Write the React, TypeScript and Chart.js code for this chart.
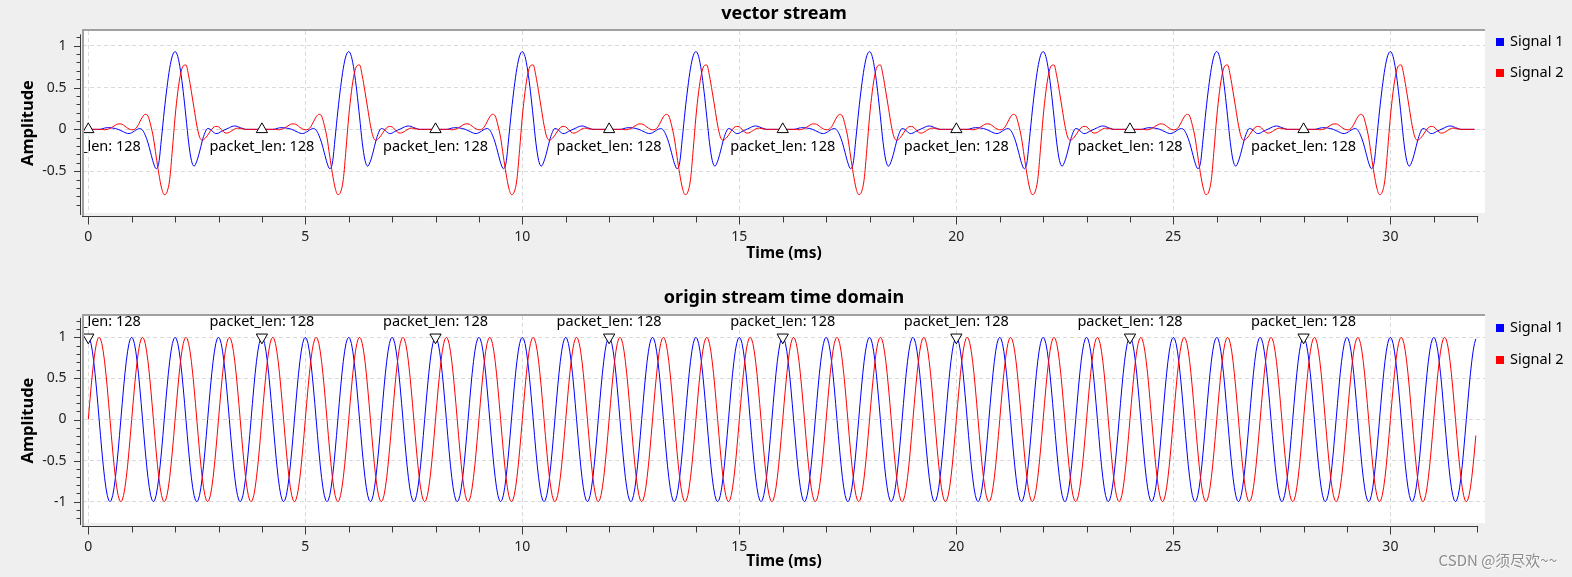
import React, { useEffect, useRef } from "react";
import { Chart, registerables } from "chart.js";

Chart.register(...registerables);

const FONT = '"Noto Sans", "DejaVu Sans", sans-serif';

// ---- Data: top plot ("vector stream"), one 4 ms packet (16 samples / ms)
const pulseSamplesPerMs = 16;
const pulseSignal1 = [
  0, 0, 0, 0, 0, 0.005, 0.015, 0.02, 0.02, 0.015, 0.01, 0.0, -0.015, -0.03, -0.045, -0.05,
  -0.04, -0.02, 0.0, 0.01, -0.01, -0.07, -0.16, -0.28, -0.4, -0.47, -0.4, -0.1, 0.22, 0.5, 0.73, 0.88,
  0.93, 0.87, 0.7, 0.45, 0.15, -0.16, -0.37, -0.44, -0.38, -0.27, -0.14, -0.04, 0.01, 0.0, -0.03, -0.05,
  -0.045, -0.025, -0.01, 0.005, 0.02, 0.035, 0.04, 0.035, 0.02, 0.01, 0.0, 0, 0, 0, 0, 0,
];
const pulseSignal2 = [
  0, 0, 0, 0, 0, 0, -0.005, 0.0, 0.01, 0.03, 0.05, 0.065, 0.065, 0.05, 0.025, 0.005,
  -0.005, 0.0, 0.03, 0.09, 0.15, 0.18, 0.16, 0.05, -0.1, -0.32, -0.53, -0.7, -0.78, -0.75, -0.6, -0.24,
  0.15, 0.45, 0.66, 0.76, 0.77, 0.64, 0.45, 0.25, 0.05, -0.09, -0.13, -0.11, -0.07, -0.02, 0.02, 0.035,
  0.03, 0.0, -0.035, -0.045, -0.035, -0.015, 0.005, 0.015, 0.01, 0.005, 0, 0, 0, 0, 0, 0,
];
const packetStarts = [0, 4, 8, 12, 16, 20, 24, 28];
const tagLabel = "packet_len: 128";

// ---- Data: bottom plot ("origin stream time domain"), one 1 ms period (32 samples / ms)
const periodSamplesPerMs = 32;
const periodCount = 32;
const periodSignal1 = [
  1, 0.981, 0.924, 0.831, 0.707, 0.556, 0.383, 0.195, 0, -0.195, -0.383, -0.556, -0.707, -0.831, -0.924, -0.981,
  -1, -0.981, -0.924, -0.831, -0.707, -0.556, -0.383, -0.195, 0, 0.195, 0.383, 0.556, 0.707, 0.831, 0.924, 0.981,
];
const periodSignal2 = [
  0, 0.195, 0.383, 0.556, 0.707, 0.831, 0.924, 0.981, 1, 0.981, 0.924, 0.831, 0.707, 0.556, 0.383, 0.195,
  0, -0.195, -0.383, -0.556, -0.707, -0.831, -0.924, -0.981, -1, -0.981, -0.924, -0.831, -0.707, -0.556, -0.383, -0.195,
];

// ---- Axes / labels
const xTickValues = [0, 5, 10, 15, 20, 25, 30];
const topYTicks = [-0.5, 0, 0.5, 1];
const bottomYTicks = [-1, -0.5, 0, 0.5, 1];
const seriesNames = ["Signal 1", "Signal 2"];
const seriesColors = ["#0000ff", "#ff0000"];
const topTitle = "vector stream";
const bottomTitle = "origin stream time domain";
const xTitle = "Time (ms)";
const yTitle = "Amplitude";
const watermark = "CSDN @须尽欢~~";

function pulseSeries(pulse: number[]) {
  const pts: { x: number; y: number }[] = [];
  for (const s of packetStarts) pulse.forEach((v, j) => pts.push({ x: s + j / pulseSamplesPerMs, y: v }));
  return pts;
}
function periodSeries(period: number[]) {
  const pts: { x: number; y: number }[] = [];
  for (let c = 0; c < periodCount; c++) period.forEach((v, j) => pts.push({ x: c + j / periodSamplesPerMs, y: v }));
  return pts;
}

type Spec = {
  title: string;
  series: { x: number; y: number }[][];
  smooth: boolean;
  yMin: number;
  yMax: number;
  yTicks: number[];
  minorFrom: number;
  minorTo: number;
  padTop: number;
  xAxisHeight: number;
  tagY: number;
  tagRotation: number;
  tagLabelOffset: number;
  xTitleY: number;
  legendYs: number[];
  watermark?: boolean;
};

function makeConfig(spec: Spec): any {
  const decor = {
    id: "decor",
    beforeDraw(chart: any) {
      const { ctx, chartArea: a, width, height } = chart;
      ctx.save();
      ctx.fillStyle = "#efefef";
      ctx.fillRect(0, 0, width, height);
      ctx.fillStyle = "#ffffff";
      ctx.fillRect(a.left, a.top, a.right - a.left, a.bottom - a.top);
      ctx.restore();
    },
    afterDatasetsDraw(chart: any) {
      const { ctx, chartArea: a } = chart;
      const xs = chart.scales.x;
      const ys = chart.scales.y;
      ctx.save();
      ctx.beginPath();
      ctx.rect(a.left, a.top, a.right - a.left, a.bottom - a.top);
      ctx.clip();
      ctx.font = `14.5px ${FONT}`;
      ctx.fillStyle = "#000";
      ctx.textAlign = "center";
      ctx.textBaseline = "middle";
      for (const s of packetStarts) {
        ctx.fillText(tagLabel, xs.getPixelForValue(s), ys.getPixelForValue(spec.tagY) + spec.tagLabelOffset);
      }
      ctx.restore();
    },
    afterDraw(chart: any) {
      const { ctx, chartArea: a } = chart;
      const xs = chart.scales.x;
      const ys = chart.scales.y;
      ctx.save();
      // canvas frame
      ctx.fillStyle = "#a0a0a0";
      ctx.fillRect(a.left - 1, a.top - 2, a.right - a.left + 1, 2);
      ctx.fillRect(a.left - 1, a.top - 2, 2, a.bottom - a.top + 5);
      // axis backbones
      ctx.strokeStyle = "#3a3a3a";
      ctx.lineWidth = 1;
      const bx = a.left - 3 + 0.5;
      const by = Math.round(a.bottom + 3) + 0.5;
      ctx.beginPath();
      ctx.moveTo(bx, ys.getPixelForValue(spec.minorTo) - 3);
      ctx.lineTo(bx, a.bottom + 2);
      ctx.moveTo(a.left - 1, by);
      ctx.lineTo(xs.getPixelForValue(32) + 1, by);
      // y ticks
      for (let k = Math.round(spec.minorFrom * 10); k <= Math.round(spec.minorTo * 10); k++) {
        const v = k / 10;
        const major = k % 5 === 0;
        const py = Math.round(ys.getPixelForValue(v)) + 0.5;
        ctx.moveTo(bx, py);
        ctx.lineTo(bx - (major ? 6.5 : 4), py);
      }
      // x ticks
      for (let v = 0; v <= 32; v++) {
        const major = v % 5 === 0;
        const px = Math.round(xs.getPixelForValue(v)) + 0.5;
        ctx.moveTo(px, by);
        ctx.lineTo(px, by + (major ? 8 : 6));
      }
      ctx.stroke();
      // titles
      const cx = (a.left + a.right) / 2;
      ctx.fillStyle = "#000";
      ctx.textAlign = "center";
      ctx.textBaseline = "middle";
      ctx.font = `bold 18px ${FONT}`;
      ctx.fillText(spec.title, cx, 14);
      ctx.font = `bold 15.5px ${FONT}`;
      ctx.fillText(xTitle, cx, spec.xTitleY);
      ctx.save();
      ctx.translate(28, (a.top + a.bottom) / 2 + 1);
      ctx.rotate(-Math.PI / 2);
      ctx.font = `bold 16.5px ${FONT}`;
      ctx.fillText(yTitle, 0, 0);
      ctx.restore();
      // legend
      ctx.textAlign = "left";
      ctx.font = `14.5px ${FONT}`;
      seriesNames.forEach((name, i) => {
        const ly = spec.legendYs[i];
        ctx.fillStyle = seriesColors[i];
        ctx.fillRect(1496, Math.round(ly - 4), 8, 8);
        ctx.fillStyle = "#000";
        ctx.fillText(name, 1510, ly);
      });
      if (spec.watermark) {
        ctx.textAlign = "right";
        ctx.font = `15px "Noto Sans CJK SC", ${FONT}`;
        ctx.fillStyle = "rgba(255,255,255,0.8)";
        ctx.fillText(watermark, 1558, chart.height - 16);
        ctx.fillStyle = "#8c8c8c";
        ctx.fillText(watermark, 1557, chart.height - 17);
      }
      ctx.restore();
    },
  };

  const lineSets = spec.series.map((data, i) => ({
    type: "line",
    label: seriesNames[i],
    data,
    borderColor: seriesColors[i],
    backgroundColor: seriesColors[i],
    borderWidth: 1,
    pointRadius: 0,
    fill: false,
    cubicInterpolationMode: spec.smooth ? "monotone" : "default",
    tension: 0,
    order: i === 0 ? 2 : 1,
  }));
  const tagSet = {
    type: "scatter",
    label: "tags",
    data: packetStarts.map((s) => ({ x: s, y: spec.tagY })),
    showLine: false,
    pointStyle: "triangle",
    pointRadius: 6.5,
    rotation: spec.tagRotation,
    borderColor: "#000",
    backgroundColor: "#fff",
    borderWidth: 1,
    order: 0,
  };

  const tickFont = { family: FONT, size: 14 };
  const fmt = (v: any) => String(v);

  return {
    type: "line",
    data: { datasets: [tagSet, ...lineSets] },
    options: {
      responsive: false,
      maintainAspectRatio: false,
      animation: false,
      devicePixelRatio: 1,
      events: [],
      layout: { padding: { left: 0, right: 87, top: spec.padTop, bottom: 0 } },
      plugins: { legend: { display: false }, tooltip: { enabled: false }, title: { display: false } },
      scales: {
        x: {
          type: "linear",
          min: -0.122,
          max: 32.18,
          afterBuildTicks: (s: any) => {
            s.ticks = xTickValues.map((v) => ({ value: v }));
          },
          afterFit: (s: any) => {
            s.height = spec.xAxisHeight;
          },
          grid: { color: "#dadada", drawTicks: false, lineWidth: 1 },
          border: { display: false, dash: [4, 3] },
          ticks: { font: tickFont, color: "#222", padding: 15.5, maxRotation: 0, autoSkip: false, callback: fmt },
        },
        y: {
          type: "linear",
          min: spec.yMin,
          max: spec.yMax,
          afterBuildTicks: (s: any) => {
            s.ticks = spec.yTicks.map((v) => ({ value: v }));
          },
          afterFit: (s: any) => {
            s.width = 83;
          },
          grid: { color: "#dadada", drawTicks: false, lineWidth: 1 },
          border: { display: false, dash: [4, 3] },
          ticks: { font: tickFont, color: "#222", padding: 16.5, autoSkip: false, callback: fmt },
        },
      },
    },
    plugins: [decor],
  };
}

const topSpec: Spec = {
  title: topTitle,
  series: [pulseSeries(pulseSignal1), pulseSeries(pulseSignal2)],
  smooth: true,
  yMin: -1.0,
  yMax: 1.176,
  yTicks: topYTicks,
  minorFrom: -0.9,
  minorTo: 1.1,
  padTop: 31,
  xAxisHeight: 71,
  tagY: 0,
  tagRotation: 0,
  tagLabelOffset: 18,
  xTitleY: 254,
  legendYs: [42, 73],
};

const bottomSpec: Spec = {
  title: bottomTitle,
  series: [periodSeries(periodSignal1), periodSeries(periodSignal2)],
  smooth: false,
  yMin: -1.259,
  yMax: 1.259,
  yTicks: bottomYTicks,
  minorFrom: -1.2,
  minorTo: 1.2,
  padTop: 32,
  xAxisHeight: 54,
  tagY: 1,
  tagRotation: 180,
  tagLabelOffset: -15,
  xTitleY: 278,
  legendYs: [44, 75.5],
  watermark: true,
};

export default function App() {
  const topRef = useRef<HTMLCanvasElement>(null);
  const botRef = useRef<HTMLCanvasElement>(null);
  useEffect(() => {
    const c1 = new Chart(topRef.current as HTMLCanvasElement, makeConfig(topSpec));
    const c2 = new Chart(botRef.current as HTMLCanvasElement, makeConfig(bottomSpec));
    return () => {
      c1.destroy();
      c2.destroy();
    };
  }, []);
  return (
    <div style={{ position: "absolute", left: 0, top: 0, width: 1572, height: 577, background: "#efefef", overflow: "hidden" }}>
      <canvas ref={topRef} width={1572} height={284} style={{ position: "absolute", left: 0, top: 0, width: 1572, height: 284 }} />
      <canvas ref={botRef} width={1572} height={293} style={{ position: "absolute", left: 0, top: 284, width: 1572, height: 293 }} />
    </div>
  );
}
